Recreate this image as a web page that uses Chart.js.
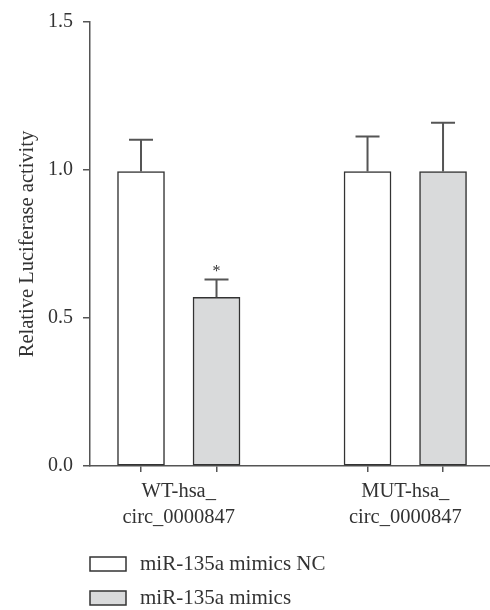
<!DOCTYPE html>
<html>
<head>
<meta charset="utf-8">
<script src="https://cdn.jsdelivr.net/npm/chart.js@4"></script>
<style>
html,body{margin:0;padding:0;background:#fff;}
#wrap{width:490px;height:610px;position:relative;}
</style>
</head>
<body>
<div id="wrap"><canvas id="myChart"></canvas></div>
<script>
// data
const groupLabels = [['WT-hsa_', 'circ_0000847'], ['MUT-hsa_', 'circ_0000847']];
const groupPos = [1.5, 4.5];
const seriesNames = ['miR-135a mimics NC', 'miR-135a mimics'];
const ncPos = [1, 4];
const mimicsPos = [2, 5];
const ncValues = [0.995, 0.995];
const mimicsValues = [0.57, 0.995];
const ncErrors = [0.107, 0.118];
const mimicsErrors = [0.06, 0.165];
const mimicsMarks = ['*', ''];
const yTicks = [0, 0.5, 1.0, 1.5];

const textColor = '#333';
const axisColor = '#555';
const fontFamily = '"Liberation Serif", "Times New Roman", serif';

Chart.defaults.font.family = fontFamily;
Chart.defaults.color = textColor;

const errorBars = {
  id: 'errorBars',
  afterDatasetsDraw(chart) {
    const ctx = chart.ctx;
    const yScale = chart.scales.y;
    chart.data.datasets.forEach((ds, di) => {
      const meta = chart.getDatasetMeta(di);
      meta.data.forEach((bar, i) => {
        const top = yScale.getPixelForValue(ds.data[i].y + ds.errors[i]);
        ctx.save();
        ctx.strokeStyle = axisColor;
        ctx.lineWidth = 2;
        ctx.beginPath();
        ctx.moveTo(bar.x, bar.y);
        ctx.lineTo(bar.x, top);
        ctx.moveTo(bar.x - 12, top);
        ctx.lineTo(bar.x + 12, top);
        ctx.stroke();
        if (ds.marks && ds.marks[i]) {
          ctx.fillStyle = textColor;
          ctx.font = '16px ' + fontFamily;
          ctx.textAlign = 'center';
          ctx.textBaseline = 'alphabetic';
          ctx.fillText(ds.marks[i], bar.x, top - 4);
        }
        ctx.restore();
      });
    });
  }
};

const boxLegend = {
  id: 'boxLegend',
  afterDraw(chart) {
    const ctx = chart.ctx;
    const area = chart.chartArea;
    chart.data.datasets.forEach((ds, i) => {
      const cy = area.bottom + 98 + i * 34;
      ctx.save();
      ctx.fillStyle = ds.backgroundColor;
      ctx.strokeStyle = ds.borderColor;
      ctx.lineWidth = 1.5;
      ctx.fillRect(area.left, cy - 7, 36, 14);
      ctx.strokeRect(area.left, cy - 7, 36, 14);
      ctx.fillStyle = textColor;
      ctx.font = '21px ' + fontFamily;
      ctx.textAlign = 'left';
      ctx.textBaseline = 'middle';
      ctx.fillText(ds.label, area.left + 50, cy);
      ctx.restore();
    });
  }
};

new Chart(document.getElementById('myChart'), {
  type: 'bar',
  data: {
    datasets: [
      {
        label: seriesNames[0],
        data: ncPos.map((x, i) => ({x: x, y: ncValues[i]})),
        errors: ncErrors,
        backgroundColor: '#ffffff',
        borderColor: '#333',
        borderWidth: 1.5,
        borderSkipped: false,
        barThickness: 47,
        grouped: false
      },
      {
        label: seriesNames[1],
        data: mimicsPos.map((x, i) => ({x: x, y: mimicsValues[i]})),
        errors: mimicsErrors,
        marks: mimicsMarks,
        backgroundColor: '#d9dadb',
        borderColor: '#333',
        borderWidth: 1.5,
        borderSkipped: false,
        barThickness: 47,
        grouped: false
      }
    ]
  },
  options: {
    responsive: true,
    maintainAspectRatio: false,
    animation: false,
    layout: {padding: {top: 17, right: 0, left: 0, bottom: 64}},
    plugins: {
      legend: {display: false},
      tooltip: {enabled: false}
    },
    scales: {
      x: {
        type: 'linear',
        offset: false,
        min: 0.3245,
        max: 5.622,
        afterBuildTicks: (scale) => {
          scale.ticks = ncPos.concat(groupPos, mimicsPos).sort((a, b) => a - b).map(v => ({value: v}));
        },
        afterFit: (scale) => { scale.height = 80; },
        grid: {
          offset: false,
          drawOnChartArea: false,
          drawTicks: true,
          tickLength: 6,
          lineWidth: 1.5,
          color: (c) => (c.tick && Number.isInteger(c.tick.value)) ? axisColor : 'rgba(0,0,0,0)'
        },
        border: {color: axisColor, width: 1.5},
        ticks: {
          autoSkip: false,
          maxRotation: 0,
          padding: 7,
          color: textColor,
          font: {size: 20.5, lineHeight: 1.25},
          callback: (v) => {
            const gi = groupPos.indexOf(v);
            return gi >= 0 ? groupLabels[gi] : '';
          }
        }
      },
      y: {
        min: 0,
        max: 1.5,
        afterBuildTicks: (scale) => { scale.ticks = yTicks.map(v => ({value: v})); },
        afterFit: (scale) => { scale.width = 90; },
        grid: {
          drawOnChartArea: false,
          drawTicks: true,
          tickLength: 7,
          lineWidth: 1.5,
          color: axisColor
        },
        border: {color: axisColor, width: 1.5},
        ticks: {
          padding: 10,
          color: textColor,
          font: {size: 20},
          callback: (v) => v.toFixed(1)
        },
        title: {
          display: true,
          text: 'Relative Luciferase activity',
          color: textColor,
          font: {size: 20.5},
          padding: {top: 15, bottom: 0}
        }
      }
    }
  },
  plugins: [errorBars, boxLegend]
});
</script>
</body>
</html>
